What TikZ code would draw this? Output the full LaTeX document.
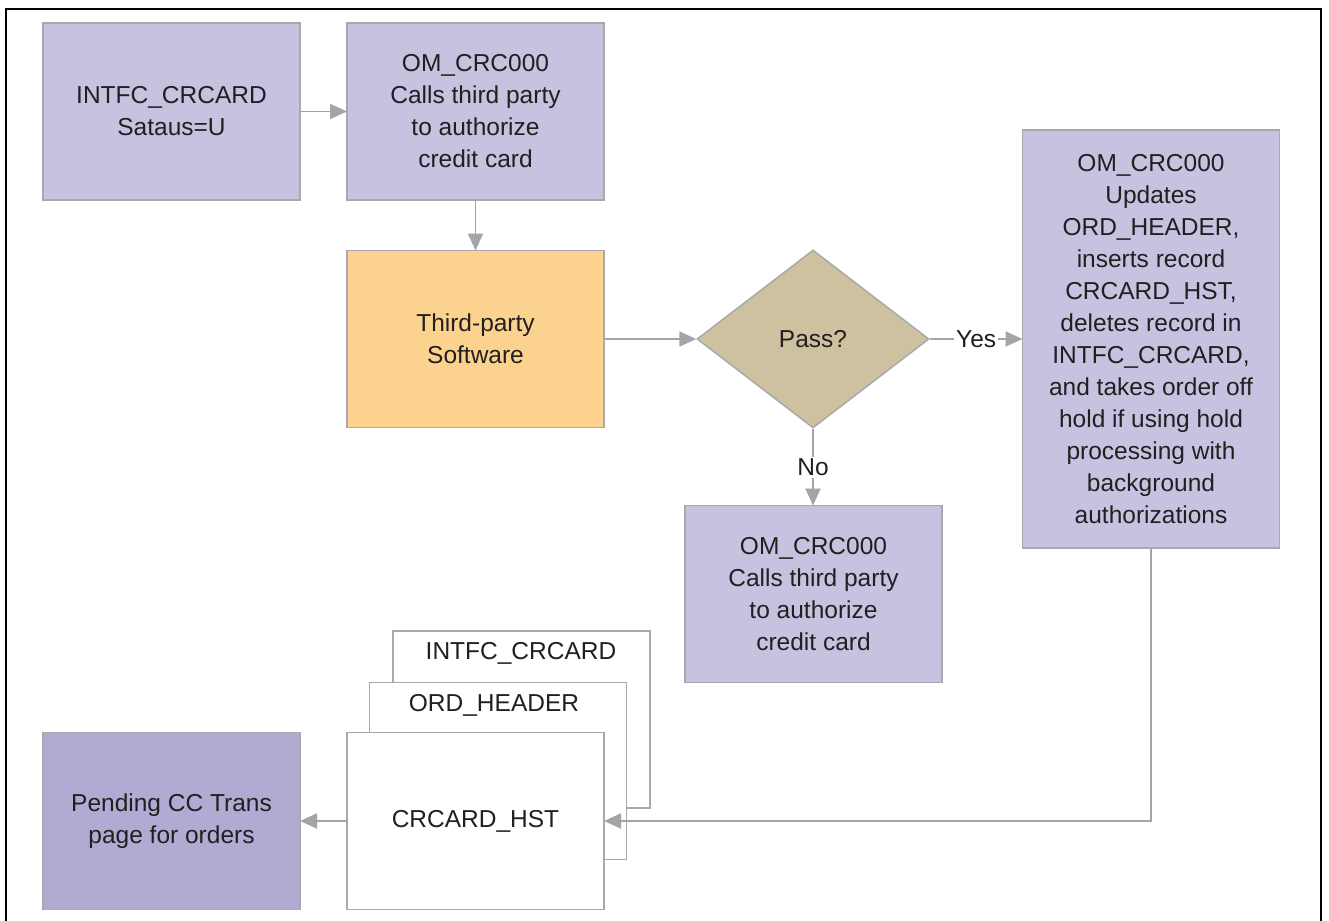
\documentclass[tikz,border=0pt]{standalone}
\usepackage{fontspec}
\setmainfont{Liberation Sans}
\usetikzlibrary{arrows.meta,shapes.geometric}
\definecolor{boxline}{HTML}{A9A9AD}
\definecolor{procfill}{HTML}{C6C2E0}
\definecolor{pagefill}{HTML}{B1ABD4}
\definecolor{softfill}{HTML}{FBD38F}
\definecolor{decfill}{HTML}{CDC1A0}
\definecolor{arrowgray}{HTML}{A3A3A8}
\definecolor{inktext}{HTML}{231F20}
\begin{document}
\begin{tikzpicture}[x=1pt,y=-1pt,
  every node/.style={font=\fontsize{24.5}{32}\selectfont, text=inktext},
  card/.style={draw=boxline, line width=1.5pt, inner sep=0pt, outer sep=0pt,
    minimum width=257pt, minimum height=177pt, align=center},
  procbox/.style={card, fill=procfill},
  tablebox/.style={card, fill=white},
  flow/.style={draw=arrowgray, line width=1.8pt,
    -{Triangle[length=17pt,width=15pt]}, arrowgray},
  tag/.style={fill=white, inner sep=2pt}]
\useasboundingbox (0,0) rectangle (1329,920);
\fill[white] (0,0) rectangle (1329,920);
% outer frame
\draw[black, line width=2.5pt] (6,930) -- (6,9) -- (1321,9) -- (1321,930);

% top row
\node[procbox] (intfc) at (171.5,111.5) {INTFC\_CRCARD\\Sataus=U};
\node[procbox] (calls) at (475.5,111.5) {OM\_CRC000\\Calls third party\\to authorize\\credit card};
\node[card, fill=softfill] (soft) at (475.5,339) {Third-party\\Software};
\node[diamond, draw=boxline, line width=1.5pt, fill=decfill, inner sep=0pt,
  minimum width=232pt, minimum height=178pt, aspect=1.3] (pass) at (813,339) {Pass?};
\node[procbox, minimum height=418pt] (upd) at (1151,339)
  {OM\_CRC000\\Updates\\ORD\_HEADER,\\inserts record\\CRCARD\_HST,\\deletes record in\\INTFC\_CRCARD,\\and takes order off\\hold if using hold\\processing with\\background\\authorizations};
\node[procbox] (fail) at (813.5,594) {OM\_CRC000\\Calls third party\\to authorize\\credit card};

% stacked record tables
\node[tablebox] (tintfc) at (521.5,719.5) {};
\node[anchor=center] (lintfc) at (521,653) {INTFC\_CRCARD};
\node[tablebox] (tord) at (498,771) {};
\node[anchor=center] (lord) at (494,705) {ORD\_HEADER};
\node[tablebox] (thst) at (475.5,821) {CRCARD\_HST};
\node[card, fill=pagefill] (pend) at (171.5,821) {Pending CC Trans\\page for orders};

% connectors
\draw[flow] (intfc) -- (calls);
\draw[flow] (calls) -- (soft);
\draw[flow] (soft) -- (pass);
\draw[flow] (pass.east) -- node[tag] (yes) {Yes} (upd.west |- pass.east);
\draw[flow] (pass.south) -- node[tag] (no) {No} (fail.north -| pass.south);
\draw[flow] (upd.south) |- (thst.east);
\draw[flow] (thst) -- (pend);
\end{tikzpicture}
\end{document}
